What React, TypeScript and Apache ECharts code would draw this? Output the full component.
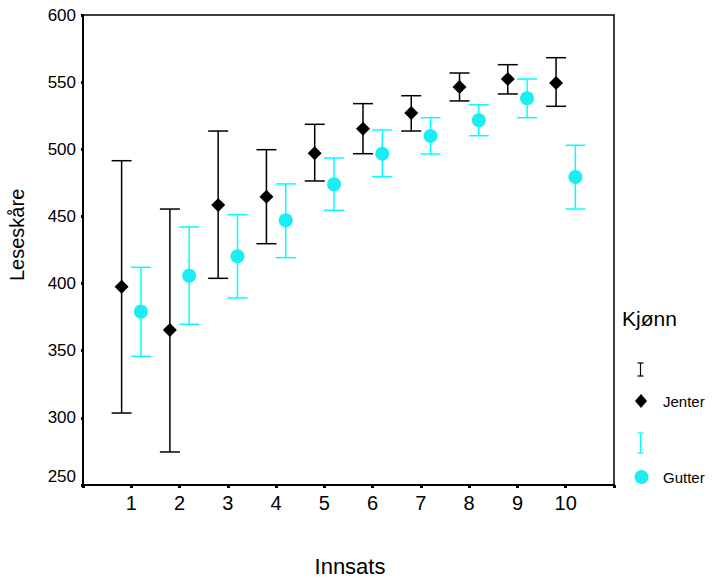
import React, { useEffect, useRef } from "react";
import * as echarts from "echarts";

const categories = [1, 2, 3, 4, 5, 6, 7, 8, 9, 10];
const jenterMean = [397.7, 365.4, 458.5, 464.7, 497, 515.3, 527, 546.4, 552.3, 549.4];
const jenterLow = [303.6, 274.6, 403.9, 429.7, 476.4, 496.7, 513.6, 536, 541.2, 532];
const jenterHigh = [491.5, 455.5, 513.6, 499.7, 518.6, 534, 539.9, 556.8, 563, 568.2];
const gutterMean = [379.1, 405.9, 420.3, 447.1, 473.9, 496.7, 509.9, 521.6, 538, 479.4];
const gutterLow = [345.8, 369.7, 389.3, 419.3, 454.6, 479.6, 496.5, 510.1, 523.5, 455.5];
const gutterHigh = [412.1, 442.1, 451.3, 474.2, 493.5, 514.4, 523.5, 533.2, 552.3, 503];
const yTicks = [250, 300, 350, 400, 450, 500, 550, 600];

const OFFSET = 0.2;
const CYAN = "#00ffff";
const FONT = "Liberation Sans, Arial, sans-serif";

function errorBarSeries(low: number[], high: number[], offset: number, color: string) {
  return {
    type: "custom",
    data: categories.map((c, i) => [c + offset, low[i], high[i]]),
    renderItem: (params: any, api: any) => {
      const x = api.value(0);
      const lo = api.coord([x, api.value(1)]);
      const hi = api.coord([x, api.value(2)]);
      const hw = 10;
      const style = { stroke: color, lineWidth: 1.5, fill: "none" };
      return {
        type: "group",
        children: [
          { type: "line", shape: { x1: lo[0], y1: lo[1], x2: hi[0], y2: hi[1] }, style },
          { type: "line", shape: { x1: lo[0] - hw, y1: lo[1], x2: lo[0] + hw, y2: lo[1] }, style },
          { type: "line", shape: { x1: hi[0] - hw, y1: hi[1], x2: hi[0] + hw, y2: hi[1] }, style },
        ],
      };
    },
    z: 2,
  };
}

export default function App() {
  const ref = useRef<HTMLDivElement>(null);
  useEffect(() => {
    if (!ref.current) return;
    const chart = echarts.init(ref.current, null, { renderer: "svg" });
    const lineStyle = { stroke: "#000", lineWidth: 1.2 };
    const cyanStyle = { stroke: CYAN, lineWidth: 1.2 };
    chart.setOption({
      animation: false,
      textStyle: { fontFamily: FONT },
      grid: {
        left: 83,
        right: 99,
        top: 15,
        bottom: 92,
        show: true,
        borderColor: "#000",
        borderWidth: 1.5,
        backgroundColor: "transparent",
      },
      xAxis: {
        type: "value",
        min: 0,
        max: 11,
        interval: 1,
        splitLine: { show: false },
        axisLine: { show: true, lineStyle: { color: "#000", width: 2 } },
        axisTick: { show: true, length: 3, lineStyle: { color: "#000", width: 3 } },
        axisLabel: {
          color: "#000",
          fontSize: 20,
          fontFamily: FONT,
          margin: 8,
          formatter: (v: number) => (categories.indexOf(v) >= 0 ? String(v) : ""),
        },
      },
      yAxis: {
        type: "value",
        min: 250,
        max: 600,
        interval: 50,
        splitLine: { show: false },
        axisLine: { show: true, lineStyle: { color: "#000", width: 2 } },
        axisTick: { show: true, length: 2, lineStyle: { color: "#000", width: 3 } },
        axisLabel: {
          color: "#000",
          fontSize: 17,
          fontFamily: FONT,
          margin: 7,
          formatter: (v: number) =>
            yTicks.indexOf(v) < 0 ? "" : v === yTicks[0] ? "{up|" + v + "}" : String(v),
          rich: {
            up: { fontSize: 17, fontFamily: FONT, color: "#000", padding: [0, 0, 18, 0] },
          },
        },
      },
      series: [
        errorBarSeries(jenterLow, jenterHigh, -OFFSET, "#000"),
        errorBarSeries(gutterLow, gutterHigh, OFFSET, CYAN),
        {
          type: "scatter",
          name: "Jenter",
          symbol: "diamond",
          symbolSize: [14, 14],
          itemStyle: { color: "#000", opacity: 1 },
          data: categories.map((c, i) => [c - OFFSET, jenterMean[i]]),
          z: 3,
        },
        {
          type: "scatter",
          name: "Gutter",
          symbol: "circle",
          symbolSize: 14,
          itemStyle: { color: "#1aeef2", opacity: 1 },
          data: categories.map((c, i) => [c + OFFSET, gutterMean[i]]),
          z: 3,
        },
      ],
      graphic: [
        {
          type: "text",
          rotation: Math.PI / 2,
          style: { text: "Leseskåre", fontSize: 20, fontFamily: FONT, fill: "#000" },
          x: 7,
          y: 281,
        },
        {
          type: "text",
          x: 350,
          y: 566,
          style: {
            text: "Innsats",
            fontSize: 22,
            fontFamily: FONT,
            fill: "#000",
            align: "center",
            verticalAlign: "middle",
          },
        },
        {
          type: "text",
          x: 622,
          y: 318,
          style: { text: "Kjønn", fontSize: 21, fontFamily: FONT, fill: "#000", verticalAlign: "middle" },
        },
        { type: "line", shape: { x1: 640.5, y1: 363, x2: 640.5, y2: 376 }, style: lineStyle },
        { type: "line", shape: { x1: 637.5, y1: 363, x2: 643.5, y2: 363 }, style: lineStyle },
        { type: "line", shape: { x1: 637.5, y1: 376, x2: 643.5, y2: 376 }, style: lineStyle },
        {
          type: "polygon",
          shape: { points: [[641, 394], [647, 401], [641, 408], [635, 401]] },
          style: { fill: "#000" },
        },
        {
          type: "text",
          x: 663,
          y: 401,
          style: { text: "Jenter", fontSize: 15, fontFamily: FONT, fill: "#000", verticalAlign: "middle" },
        },
        { type: "line", shape: { x1: 640.5, y1: 433, x2: 640.5, y2: 453 }, style: cyanStyle },
        { type: "line", shape: { x1: 637.5, y1: 433, x2: 643.5, y2: 433 }, style: cyanStyle },
        { type: "line", shape: { x1: 637.5, y1: 453, x2: 643.5, y2: 453 }, style: cyanStyle },
        {
          type: "circle",
          shape: { cx: 641.5, cy: 477, r: 7 },
          style: { fill: "#1aeef2" },
        },
        {
          type: "text",
          x: 663,
          y: 477,
          style: { text: "Gutter", fontSize: 15, fontFamily: FONT, fill: "#000", verticalAlign: "middle" },
        },
      ],
    });
    return () => chart.dispose();
  }, []);
  return <div ref={ref} style={{ width: 713, height: 577, position: "absolute", left: 0, top: 0 }} />;
}
